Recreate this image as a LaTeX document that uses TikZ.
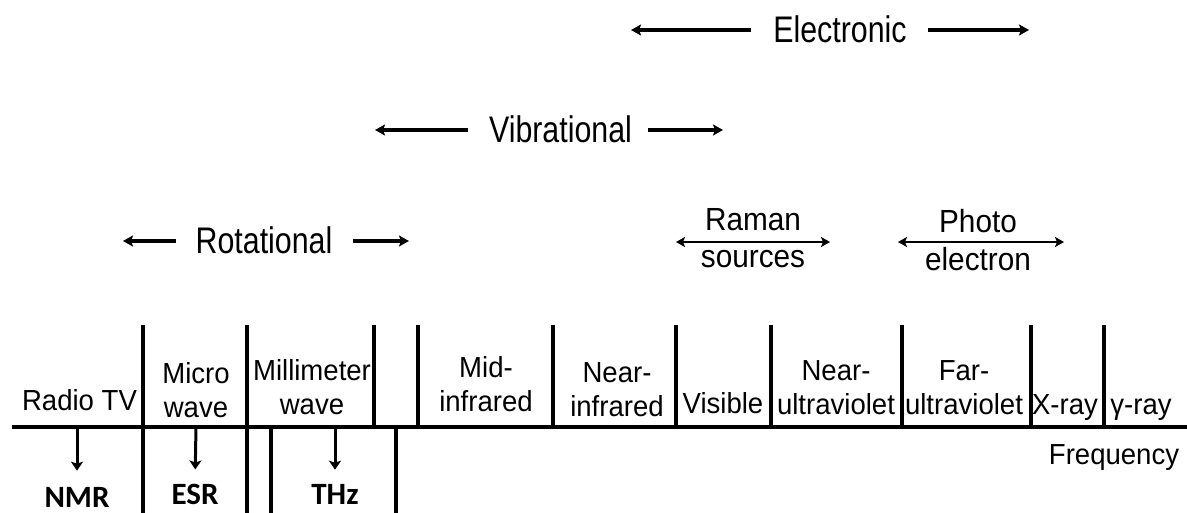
\documentclass[tikz,border=0pt]{standalone}
\usepackage{fontspec}
\setmainfont{Liberation Sans}
\newfontfamily\calib{Carlito}
\newfontfamily\narrowbig[FakeStretch=0.82]{Liberation Sans}
\newfontfamily\narrowmid[FakeStretch=0.93]{Liberation Sans}
\newfontfamily\narrowband[FakeStretch=0.95]{Liberation Sans}
\usetikzlibrary{arrows.meta}
\begin{document}
\begin{tikzpicture}[x=1pt,y=-1pt,
  rule/.style={line width=3.2pt},
  big/.style={font=\narrowbig\fontsize{37}{44}\selectfont, inner sep=0pt, anchor=base},
  band/.style={font=\narrowband\fontsize{29}{33.5}\selectfont, inner sep=0pt, align=center, anchor=base},
  mid/.style={font=\narrowmid\fontsize{32}{37}\selectfont, inner sep=0pt, align=center, anchor=base},
  tech/.style={font=\calib\bfseries\fontsize{31}{36}\selectfont, inner sep=0pt, anchor=base},
  harrow/.style={line width=3.2pt, -{Stealth[length=10pt,width=11pt,inset=2pt]}},
  darrow/.style={line width=2.6pt, {Stealth[length=9pt,width=10pt,inset=2pt]}-{Stealth[length=9pt,width=10pt,inset=2pt]}},
  varrow/.style={line width=3pt, -{Stealth[length=9pt,width=12pt,inset=2pt]}}
]
\useasboundingbox (0,0) rectangle (1187,513);

% axis
\draw[rule] (12,427) -- (1187,427);
% dividers above the axis
\foreach \x in {143,247,374,418,553,676,771,902,1031,1104}
  \draw[rule] (\x,325) -- (\x,428.6);
% dividers below the axis
\foreach \x in {143,247,271,396}
  \draw[rule] (\x,425.4) -- (\x,513);

% band labels (anchor = baseline of the last line)
\node[band] (radio) at (79.5,410) {Radio TV};
\node[band] (micro) at (196,417) {Micro\\wave};
\node[band] (mm) at (312,414) {Millimeter\\wave};
\node[band] (midir) at (486,411) {Mid-\\infrared};
\node[band] (nearir) at (617,416) {Near-\\infrared};
\node[band] (vis) at (723,413) {Visible};
\node[band] (nearuv) at (836,414) {Near-\\ultraviolet};
\node[band] (faruv) at (964,414) {Far-\\ultraviolet};
\node[band] (xray) at (1065,414) {X-ray};
\node[band] (gray) at (1141,414) {γ-ray};
\node[band] (freq) at (1114,464) {Frequency};

% techniques below
\node[tech] (nmr) at (77,507) {NMR};
\node[tech] (esr) at (195,504) {ESR};
\node[tech] (thz) at (335,504) {THz};
\coordinate (nmrA) at (77,427);
\coordinate (esrA) at (196,427);
\coordinate (thzA) at (335,427);
\draw[varrow, shorten >=16pt] (nmrA) -- (nmr.north);
\draw[varrow, shorten >=14pt] (esrA) -- (esr.north);
\draw[varrow, shorten >=14pt] (thzA) -- (thz.north);

% transitions
\node[big] (elec) at (840,42.5) {Electronic};
\coordinate (elecL) at (631,30);
\coordinate (elecR) at (1029,30);
\coordinate (elecLs) at (751,30);
\coordinate (elecRs) at (928,30);
\draw[harrow] (elecLs) -- (elecL);
\draw[harrow] (elecRs) -- (elecR);

\node[big] (vib) at (560.5,143) {Vibrational};
\coordinate (vibL) at (375,130);
\coordinate (vibR) at (723,130);
\coordinate (vibLs) at (468,130);
\coordinate (vibRs) at (648,130);
\draw[harrow] (vibLs) -- (vibL);
\draw[harrow] (vibRs) -- (vibR);

\node[big] (rot) at (264,253.5) {Rotational};
\coordinate (rotL) at (123,241);
\coordinate (rotR) at (409,241);
\coordinate (rotLs) at (176,241);
\coordinate (rotRs) at (353,241);
\draw[harrow] (rotLs) -- (rotL);
\draw[harrow] (rotRs) -- (rotR);

% Raman and photoelectron
\node[mid] (raman) at (753,268) {Raman\\sources};
\coordinate (ramL) at (676,242);
\coordinate (ramR) at (830,242);
\draw[darrow] (ramL) -- (ramR);

\node[mid, font=\narrowmid\fontsize{32}{38}\selectfont] (photo) at (978,271) {Photo\\electron};
\coordinate (phL) at (898,242);
\coordinate (phR) at (1064,242);
\draw[darrow] (phL) -- (phR);
\end{tikzpicture}
\end{document}
